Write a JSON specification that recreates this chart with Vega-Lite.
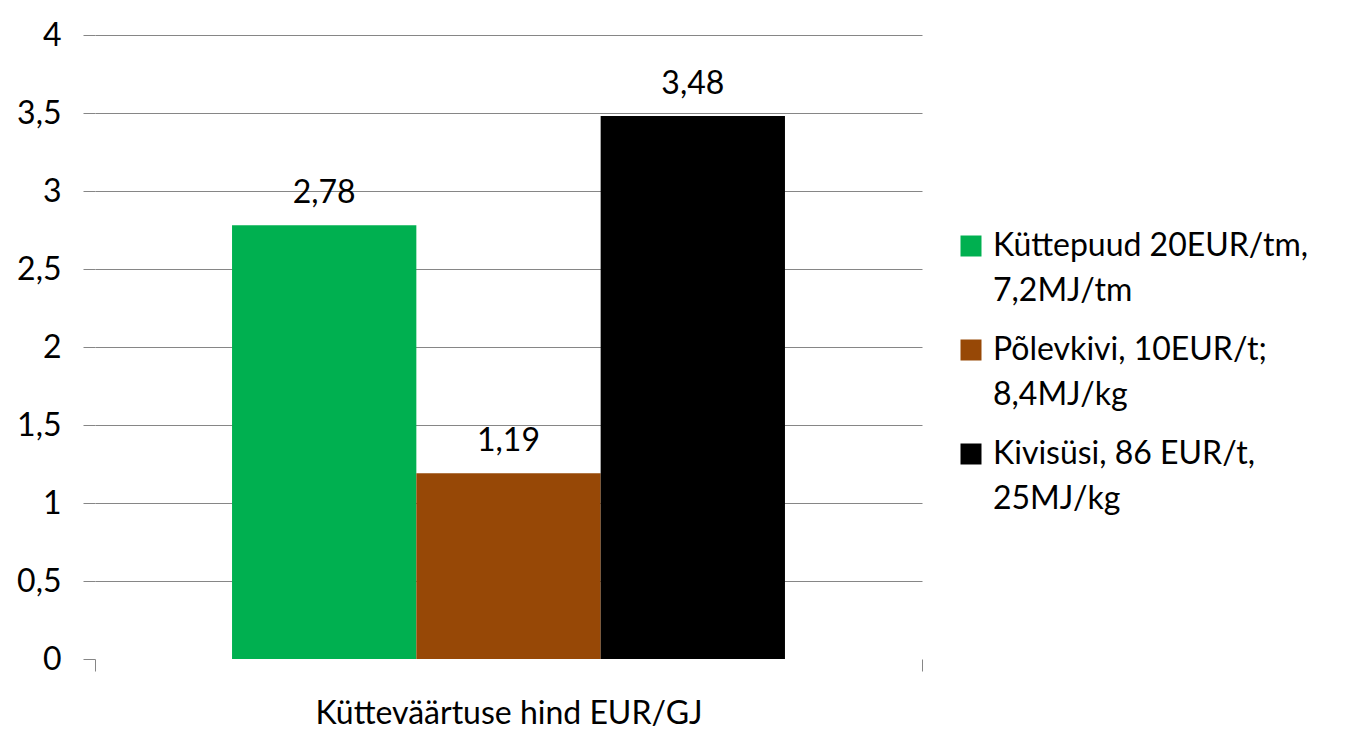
{
  "$schema": "https://vega.github.io/schema/vega-lite/v6.json",
  "width": 827,
  "height": 624,
  "autosize": "none",
  "padding": {"left": 95, "top": 35, "right": 428, "bottom": 84},
  "background": "white",
  "config": {
    "font": "Lato",
    "view": {"stroke": null},
    "locale": {"number": {"decimal": ",", "thousands": " ", "grouping": [3], "currency": ["", " €"]}}
  },
  "data": {
    "values": [
      {"cat": "Kütteväärtuse hind EUR/GJ", "series": "Küttepuud 20EUR/tm, 7,2MJ/tm", "value": 2.78},
      {"cat": "Kütteväärtuse hind EUR/GJ", "series": "Põlevkivi, 10EUR/t; 8,4MJ/kg", "value": 1.19},
      {"cat": "Kütteväärtuse hind EUR/GJ", "series": "Kivisüsi, 86 EUR/t, 25MJ/kg", "value": 3.48}
    ]
  },
  "encoding": {
    "x": {
      "field": "cat", "type": "nominal", "title": null,
      "scale": {"paddingInner": 0, "paddingOuter": 0},
      "axis": {
        "domain": false, "tickBand": "extent", "tickColor": "#868686", "tickSize": 12,
        "labelAngle": 0, "labelFontSize": 32, "labelColor": "black", "labelPadding": 27, "labelLimit": 800, "grid": false
      }
    },
    "xOffset": {
      "field": "series", "type": "nominal",
      "sort": ["Küttepuud 20EUR/tm, 7,2MJ/tm", "Põlevkivi, 10EUR/t; 8,4MJ/kg", "Kivisüsi, 86 EUR/t, 25MJ/kg"],
      "scale": {"paddingInner": 0, "paddingOuter": 0.7435}
    },
    "y": {
      "field": "value", "type": "quantitative", "title": null,
      "scale": {"domain": [0, 4], "nice": false},
      "axis": {
        "values": [0, 0.5, 1, 1.5, 2, 2.5, 3, 3.5, 4],
        "format": ".1~f",
        "domain": false, "tickColor": "#868686", "tickSize": 12,
        "gridColor": {"condition": {"test": "datum.value === 0", "value": "transparent"}, "value": "#868686"},
        "labelFontSize": 32, "labelColor": "black", "labelPadding": 22
      }
    }
  },
  "layer": [
    {
      "mark": {"type": "bar"},
      "encoding": {
        "color": {
          "field": "series", "type": "nominal",
          "sort": ["Küttepuud 20EUR/tm, 7,2MJ/tm", "Põlevkivi, 10EUR/t; 8,4MJ/kg", "Kivisüsi, 86 EUR/t, 25MJ/kg"],
          "scale": {"range": ["#00B050", "#974806", "#000000"]},
          "legend": {
            "title": null, "orient": "none", "legendX": 860, "legendY": 195,
            "symbolType": "square", "symbolSize": 441, "symbolStrokeWidth": 0,
            "labelFontSize": 32, "labelColor": "black", "labelLimit": 500, "labelOffset": 6,
            "rowPadding": 27,
            "labelExpr": "[slice(datum.label, 0, lastindexof(datum.label, ' ')), slice(datum.label, lastindexof(datum.label, ' ') + 1)]",
            "encode": {"labels": {"update": {"lineHeight": {"value": 45}}}}
          }
        }
      }
    },
    {
      "mark": {"type": "text", "baseline": "bottom", "dy": -15, "fontSize": 32, "color": "black"},
      "encoding": {
        "text": {"field": "value", "type": "quantitative", "format": ".2f"}
      }
    }
  ]
}
